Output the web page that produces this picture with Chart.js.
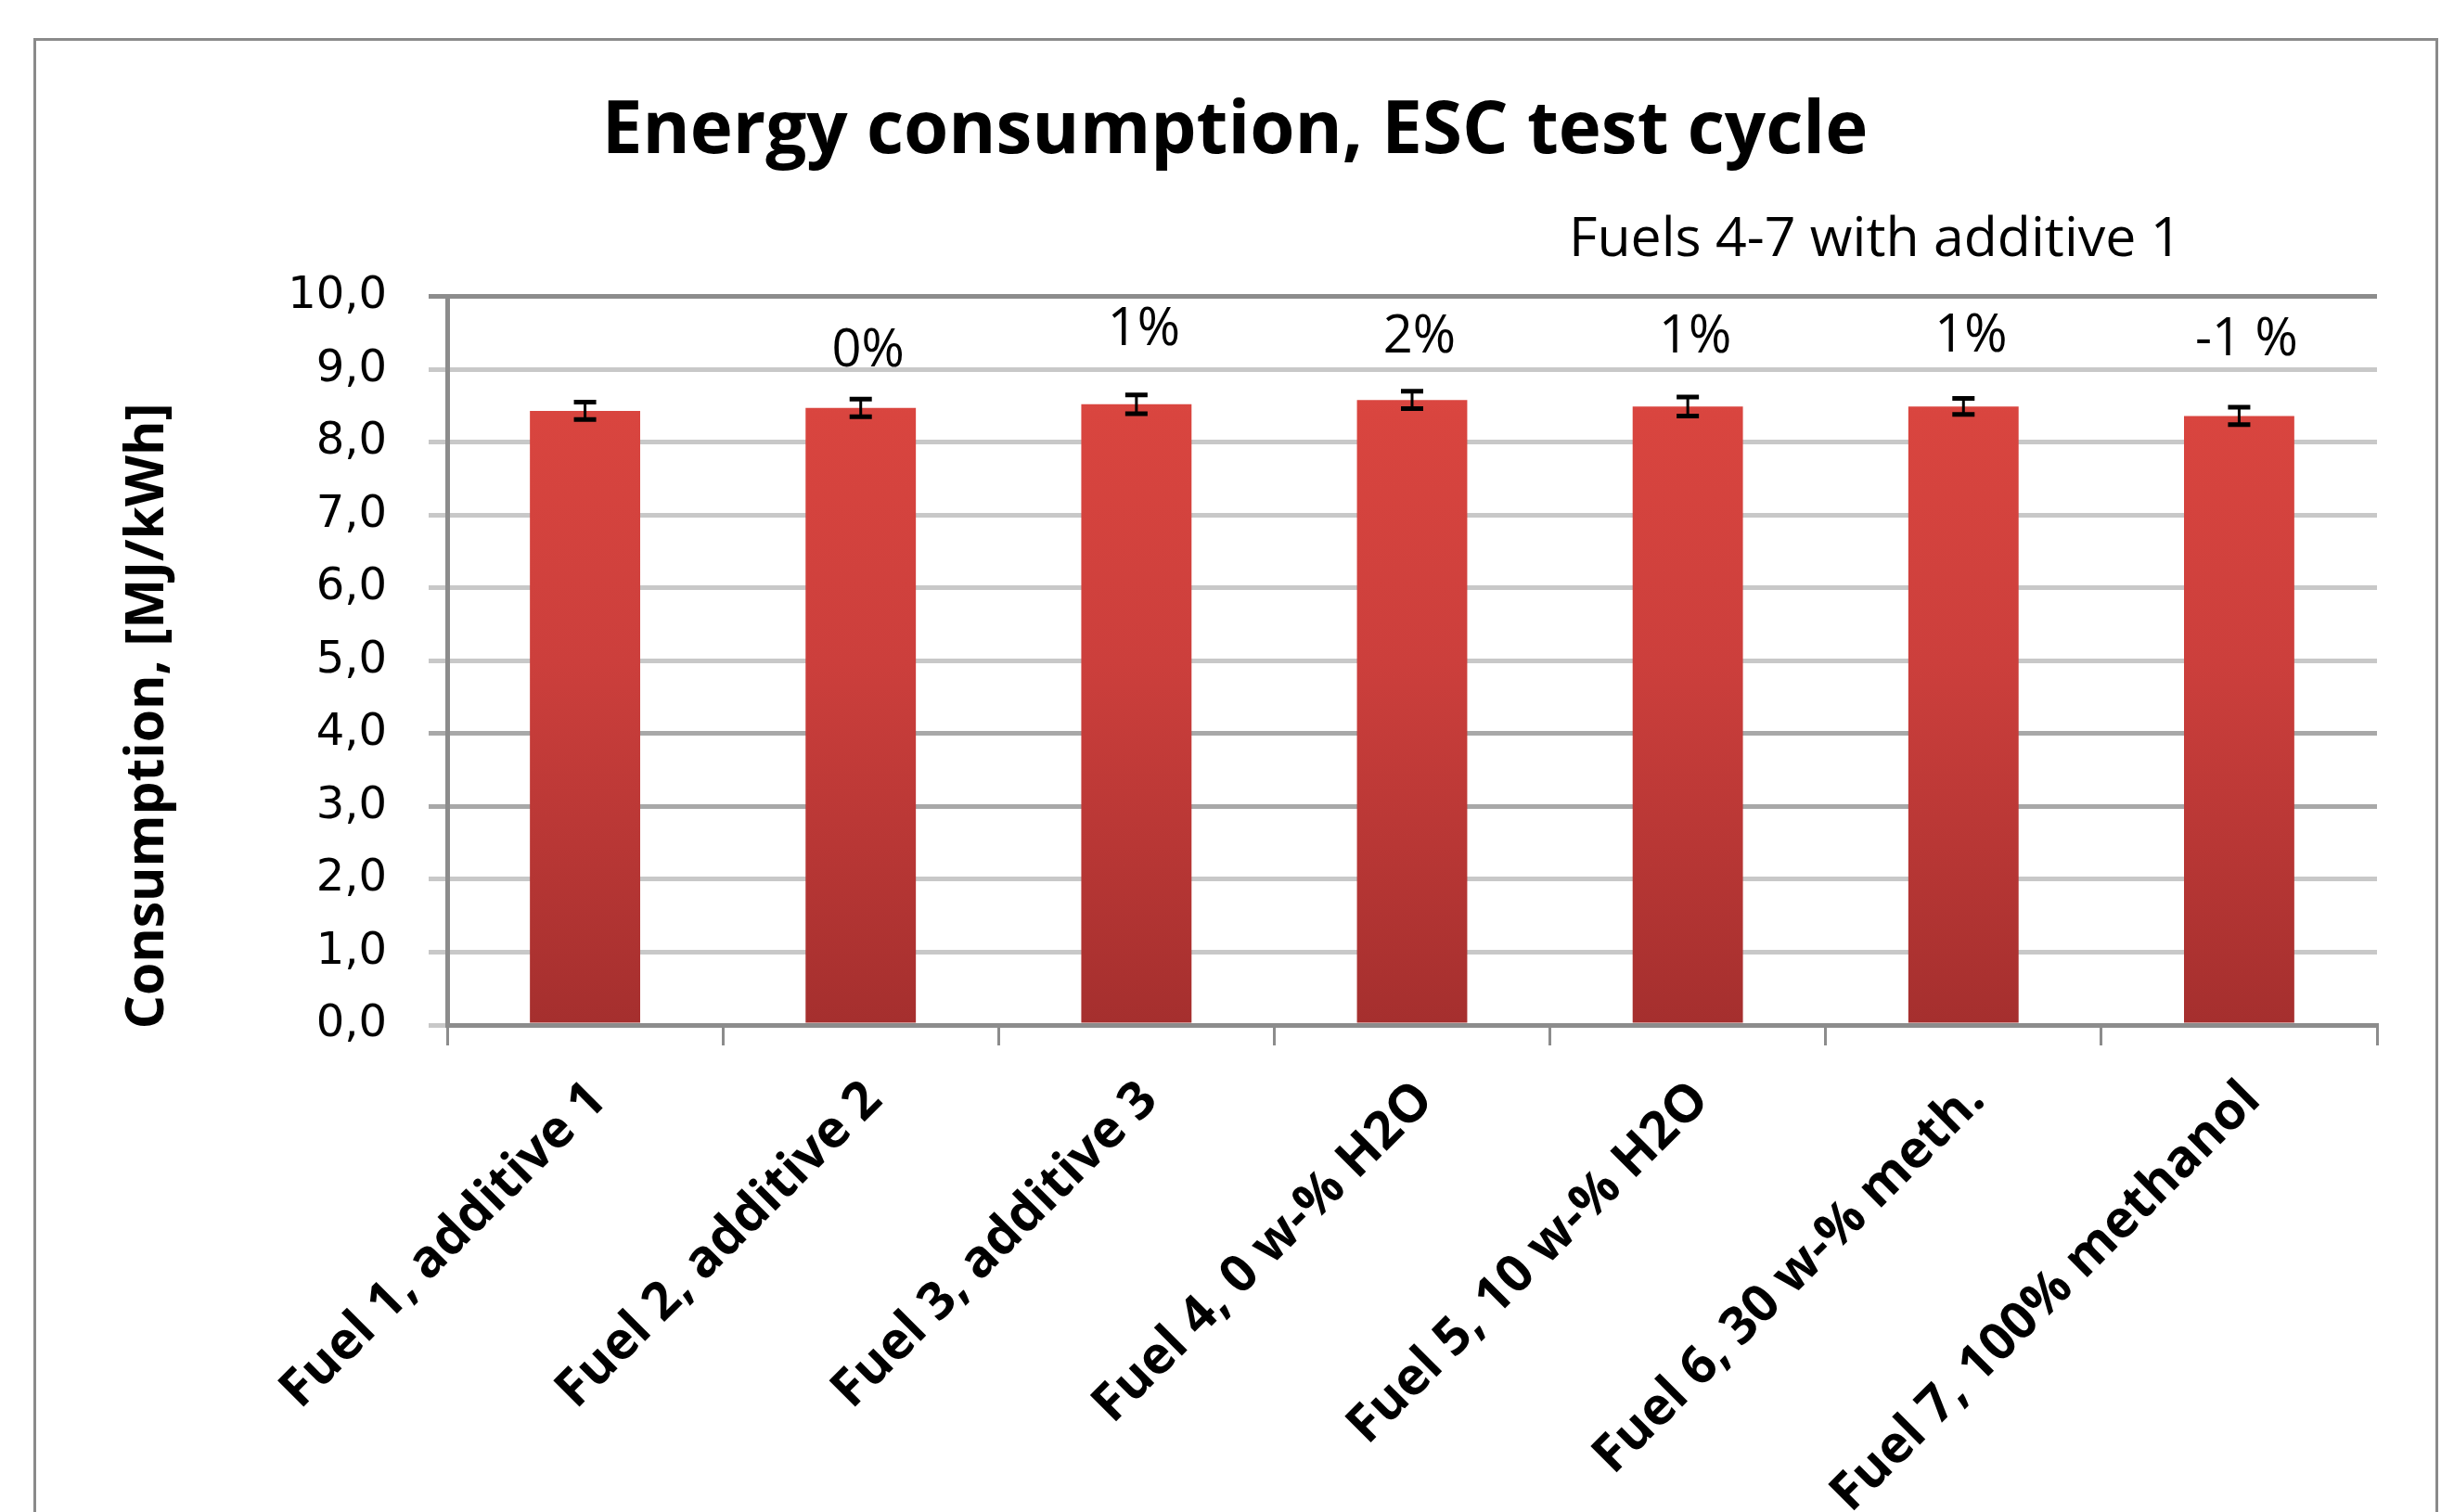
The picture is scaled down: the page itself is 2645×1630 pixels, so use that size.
<!DOCTYPE html>
<html>
<head>
<meta charset="utf-8">
<script src="https://cdn.jsdelivr.net/npm/chart.js@4"></script>
<style>
  body { margin: 0; background: #fff; }
  #wrap { position: relative; width: 2645px; height: 1630px; }
  #marco { position: absolute; left: 36px; top: 41px; width: 2586px; height: 1600px;
           border: 3px solid #8a8a8a; border-bottom: none; }
  #grafico { position: absolute; left: 0; top: 0; }
</style>
</head>
<body>
<div id="wrap">
  <div id="marco"></div>
  <canvas id="grafico" width="2645" height="1630"></canvas>
</div>
<script>
const fuels = [
  'Fuel 1, additive 1',
  'Fuel 2, additive 2',
  'Fuel 3, additive 3',
  'Fuel 4, 0 w-% H2O',
  'Fuel 5, 10 w-% H2O',
  'Fuel 6, 30 w-% meth.',
  'Fuel 7, 100% methanol'
];
const consumption = [8.43, 8.47, 8.52, 8.58, 8.49, 8.49, 8.36];
const errors = [0.12, 0.12, 0.13, 0.12, 0.13, 0.11, 0.12];
// diferencia respecto al fuel 1
const changeLabels = ['', '0%', '1%', '2%', '1%', '1%', '-1 %'];
const changeLabelY = [null, 9.24, 9.53, 9.43, 9.43, 9.45, 9.40];

const titulo = 'Energy consumption, ESC test cycle';
const subtitulo = 'Fuels 4-7 with additive 1';
const tituloY = 'Consumption, [MJ/kWh]';

const grafico = document.getElementById('grafico');

// barras de error, etiquetas de % y textos sueltos
const extras = {
  id: 'extras',
  afterDatasetsDraw(chart) {
    const { ctx, chartArea, scales } = chart;
    const meta = chart.getDatasetMeta(0);
    ctx.save();
    ctx.strokeStyle = '#000';
    meta.data.forEach((bar, i) => {
      const yTop = scales.y.getPixelForValue(consumption[i] + errors[i]);
      const yBot = scales.y.getPixelForValue(consumption[i] - errors[i]);
      ctx.lineWidth = 3;
      ctx.beginPath();
      ctx.moveTo(bar.x, yTop);
      ctx.lineTo(bar.x, yBot);
      ctx.stroke();
      ctx.lineWidth = 5;
      ctx.beginPath();
      ctx.moveTo(bar.x - 12, yTop);
      ctx.lineTo(bar.x + 12, yTop);
      ctx.moveTo(bar.x - 12, yBot);
      ctx.lineTo(bar.x + 12, yBot);
      ctx.stroke();
    });

    ctx.fillStyle = '#000';
    ctx.textAlign = 'center';
    ctx.textBaseline = 'middle';
    ctx.font = '56px "Open Sans"';
    meta.data.forEach((bar, i) => {
      if (!changeLabels[i]) return;
      ctx.fillText(changeLabels[i], bar.x + 8, scales.y.getPixelForValue(changeLabelY[i]));
    });

    ctx.font = '59px "Open Sans"';
    ctx.fillText(subtitulo, chartArea.left + chartArea.width * 0.74, chartArea.top - 60);

    ctx.translate(160, chartArea.top + chartArea.height * 0.576);
    ctx.rotate(-Math.PI / 2);
    ctx.font = 'bold 57px "Open Sans"';
    ctx.fillText(tituloY, 0, 0);
    ctx.restore();
  }
};

new Chart(grafico, {
  type: 'bar',
  data: {
    labels: fuels,
    datasets: [{
      label: 'Consumption',
      data: consumption,
      backgroundColor: (ctx) => {
        const area = ctx.chart.chartArea;
        if (!area) return '#d04040';
        const g = ctx.chart.ctx.createLinearGradient(0, area.top, 0, area.bottom);
        g.addColorStop(0, '#e4514c');
        g.addColorStop(0.16, '#d9453f');
        g.addColorStop(0.5, '#cc3f3c');
        g.addColorStop(1, '#a52f2e');
        return g;
      },
      borderWidth: 0,
      barPercentage: 0.4,
      categoryPercentage: 1
    }]
  },
  options: {
    responsive: false,
    animation: false,
    layout: { padding: { left: 100, right: 83, top: 0, bottom: 0 } },
    plugins: {
      legend: { display: false },
      tooltip: { enabled: false },
      title: {
        display: true,
        text: titulo,
        color: '#000',
        font: { family: 'Open Sans', weight: 'bold', size: 78, lineHeight: 1.2 },
        padding: { top: 96, bottom: 130 }
      }
    },
    scales: {
      x: {
        afterFit: (scale) => { scale.height = 525; },
        grid: {
          display: true,
          drawOnChartArea: false,
          drawTicks: true,
          tickLength: 22,
          color: '#8c8c8c',
          lineWidth: 3
        },
        border: { color: '#8c8c8c', width: 5 },
        ticks: {
          autoSkip: false,
          minRotation: 45,
          maxRotation: 45,
          padding: 26,
          labelOffset: 14,
          color: '#000',
          font: { family: 'Open Sans', weight: 'bold', size: 56 }
        }
      },
      y: {
        min: 0,
        max: 10,
        afterFit: (scale) => { scale.width = 382; },
        grid: {
          color: (ctx) => {
            const v = ctx.tick ? ctx.tick.value : 0;
            if (v === 10) return '#8c8c8c';
            if (v === 3 || v === 4) return '#a8a8a8';
            return '#c8c8c8';
          },
          lineWidth: 5,
          tickLength: 20
        },
        border: { color: '#8c8c8c', width: 5 },
        ticks: {
          stepSize: 1,
          padding: 45,
          color: '#000',
          font: { family: 'DejaVu Sans', size: 48 },
          callback: (v) => v.toFixed(1).replace('.', ',')
        }
      }
    }
  },
  plugins: [extras]
});
</script>
</body>
</html>
